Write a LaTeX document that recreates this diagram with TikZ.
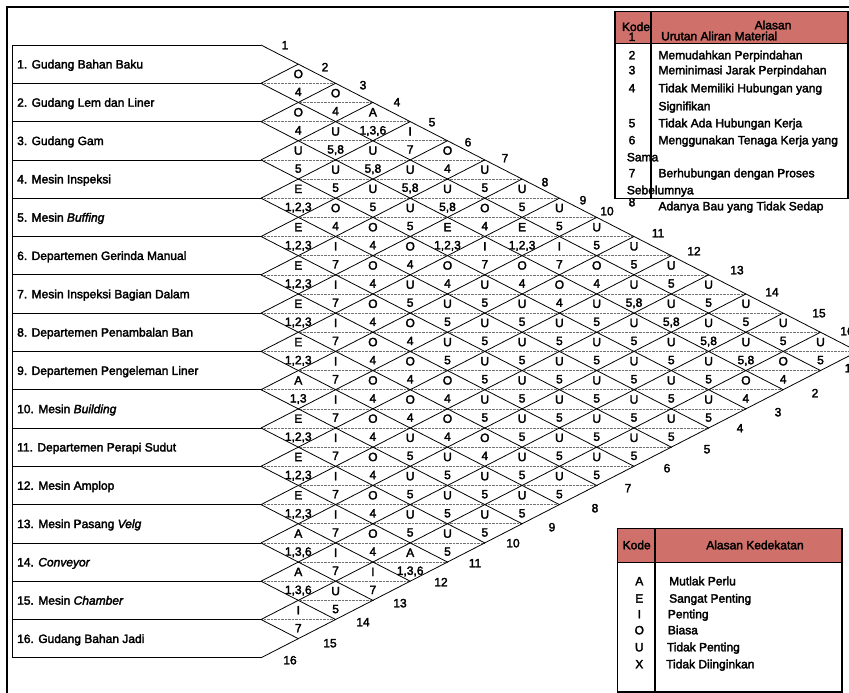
\documentclass[tikz,border=0pt]{standalone}
\usepackage{fontspec}
\setmainfont{Liberation Sans}[FakeBold=2.5]
\definecolor{hdr}{RGB}{207,112,106}
\begin{document}
\begin{tikzpicture}[x=1bp,y=-1bp, font=\fontsize{12bp}{14bp}\selectfont,
  lat/.style={line width=0.8bp},
  dotln/.style={line width=0.6bp, black!55, dash pattern=on 0.7bp off 0.7bp},
  ctext/.style={anchor=base, inner sep=0pt, yshift=-4.3bp},
  ltext/.style={anchor=base west, inner sep=0pt, yshift=-4.3bp},
  frameln/.style={line width=2bp},
  legbox/.style={line width=1.6bp}]
\useasboundingbox (0,0) rectangle (849,693);
% outer frame
\draw[frameln] (7.3,700) -- (7.3,6.7) -- (860,6.7);
% department boxes
\draw[lat] (12.3,45) -- (12.3,657.8);
\foreach \k in {0,...,16} \draw[lat] (12.3,{45+\k*38.3}) -- (261,{45+\k*38.3});
% dotted centre lines of the cells
\foreach \m in {2,...,30}{
  \pgfmathsetmacro\ym{45+\m*38.3/2}
  \pgfmathsetmacro\xs{261+mod(\m,2)*37.3}
  \pgfmathsetmacro\xe{261+min(\m,32-\m)*37.3}
  \draw[dotln] (\xs,\ym) -- (\xe,\ym);
}
% diamond lattice
\foreach \k in {0,...,16}{
  \pgfmathsetmacro\yk{45+\k*38.3}
  \ifnum\k<16 \draw[lat] (261,\yk) -- ({261+(16-\k)*37.3},{45+(8+\k/2)*38.3}); \fi
  \ifnum\k>0 \draw[lat] (261,\yk) -- ({261+\k*37.3},{45+\k*38.3/2}); \fi
}
% department names
\foreach \i/\t in {1/{1. Gudang Bahan Baku},2/{2. Gudang Lem dan Liner},3/{3. Gudang Gam},
  4/{4. Mesin Inspeksi},5/{5. Mesin \textit{Buffing}},6/{6. Departemen Gerinda Manual},
  7/{7. Mesin Inspeksi Bagian Dalam},8/{8. Departemen Penambalan Ban},
  9/{9. Departemen Pengeleman Liner},10/{10. Mesin \textit{Building}},
  11/{11. Departemen Perapi Sudut},12/{12. Mesin Amplop},13/{13. Mesin Pasang \textit{Velg}},
  14/{14. \textit{Conveyor}},15/{15. Mesin \textit{Chamber}},16/{16. Gudang Bahan Jadi}}
  \node[ltext] (D\i) at (17,{45+(\i-0.5)*38.3}) {\t};
% cells
\foreach \i/\j/\L/\R in {
 1/2/O/4, 1/3/O/4, 1/4/A/{1,3,6}, 1/5/I/7, 1/6/O/4, 1/7/U/5, 1/8/U/5, 1/9/U/5, 1/10/U/5, 1/11/U/5, 1/12/U/5, 1/13/U/5, 1/14/U/5, 1/15/U/5, 1/16/U/5,
 2/3/O/4, 2/4/U/{5,8}, 2/5/U/{5,8}, 2/6/U/{5,8}, 2/7/U/{5,8}, 2/8/O/4, 2/9/E/{1,2,3}, 2/10/I/7, 2/11/O/4, 2/12/U/{5,8}, 2/13/U/{5,8}, 2/14/U/{5,8}, 2/15/U/{5,8}, 2/16/O/4,
 3/4/U/5, 3/5/U/5, 3/6/U/5, 3/7/U/5, 3/8/E/{1,2,3}, 3/9/I/7, 3/10/O/4, 3/11/O/4, 3/12/U/5, 3/13/U/5, 3/14/U/5, 3/15/U/5, 3/16/O/4,
 4/5/E/{1,2,3}, 4/6/O/4, 4/7/O/4, 4/8/O/4, 4/9/O/4, 4/10/U/5, 4/11/U/5, 4/12/U/5, 4/13/U/5, 4/14/U/5, 4/15/U/5, 4/16/U/5,
 5/6/E/{1,2,3}, 5/7/I/7, 5/8/O/4, 5/9/U/5, 5/10/U/5, 5/11/U/5, 5/12/U/5, 5/13/U/5, 5/14/U/5, 5/15/U/5, 5/16/U/5,
 6/7/E/{1,2,3}, 6/8/I/7, 6/9/O/4, 6/10/O/4, 6/11/U/5, 6/12/U/5, 6/13/U/5, 6/14/U/5, 6/15/U/5, 6/16/U/5,
 7/8/E/{1,2,3}, 7/9/I/7, 7/10/O/4, 7/11/O/4, 7/12/O/4, 7/13/U/5, 7/14/U/5, 7/15/U/5, 7/16/U/5,
 8/9/E/{1,2,3}, 8/10/I/7, 8/11/O/4, 8/12/O/4, 8/13/O/4, 8/14/O/4, 8/15/U/5, 8/16/U/5,
 9/10/A/{1,3}, 9/11/I/7, 9/12/O/4, 9/13/U/5, 9/14/U/5, 9/15/U/5, 9/16/U/5,
 10/11/E/{1,2,3}, 10/12/I/7, 10/13/O/4, 10/14/U/5, 10/15/U/5, 10/16/U/5,
 11/12/E/{1,2,3}, 11/13/I/7, 11/14/O/4, 11/15/U/5, 11/16/U/5,
 12/13/E/{1,2,3}, 12/14/I/7, 12/15/O/4, 12/16/A/{1,3,6},
 13/14/A/{1,3,6}, 13/15/I/7, 13/16/I/7,
 14/15/A/{1,3,6}, 14/16/U/5,
 15/16/I/7}{
  \pgfmathsetmacro\cx{261+(\j-\i)*37.3}
  \pgfmathsetmacro\cy{45+(\i+\j-1)*38.3/2}
  \node[ctext] (L\i-\j) at ({\cx},{\cy-9.5}) {\L};
  \node[ctext] (R\i-\j) at ({\cx},{\cy+8.5}) {\R};
}
% numbers along the top edge
\foreach \n/\x/\y in {1/285/45,2/325/67,3/363/85,4/397/102,5/432/122,6/468/142,7/505/158,8/545/182,
  9/583/200,10/607/211,11/658/233,12/694/251,13/737/270,14/772/292,15/819/313,16/847/331}
  \node[ctext] (T\n) at (\x,\y) {\n};
% numbers along the bottom edge
\foreach \n/\x/\y in {16/290/660,15/330/643,14/363/622,13/400/603,12/441/582,11/475/563,10/513/543,
  9/552/527,8/595/508,7/628/488,6/667/468,5/707/449,4/740/428,3/778/412,2/815/393,1/848/368}
  \node[ctext] (B\n) at (\x,\y) {\n};
% legend: reasons
\fill[white] (615,11.7) rectangle (848,198.3);
\fill[hdr] (615,11.7) rectangle (848,43.3);
\draw[legbox] (615,11.7) rectangle (848,198.3);
\draw[lat] (615,43.3) -- (848,43.3);
\draw[legbox] (650.7,11.7) -- (650.7,198.3);
\node[ctext] (k0) at (636,26.7) {Kode};
\node[ctext] (a0) at (773,25) {Alasan};
\node[ctext] (k1) at (632,36.7) {1};
\node[ltext] (a1) at (661,36) {Urutan Aliran Material};
\foreach \n/\y/\t in {2/55/{Memudahkan Perpindahan},3/70/{Meminimasi Jarak Perpindahan},
  4/88/{Tidak Memiliki Hubungan yang},5/123/{Tidak Ada Hubungan Kerja},
  6/140/{Menggunakan Tenaga Kerja yang},7/173/{Berhubungan dengan Proses}}{
  \node[ctext] (k\n) at (632,\y) {\n};
  \node[ltext] (a\n) at (658.3,\y) {\t};
}
\node[ltext] (a4b) at (658.3,106) {Signifikan};
\node[ltext] (a6b) at (626.7,157) {Sama};
\node[ltext] (a7b) at (626.7,190) {Sebelumnya};
\node[ctext] (k8) at (632,202) {8};
\node[ltext] (a8) at (658.3,206) {Adanya Bau yang Tidak Sedap};
% legend: closeness codes
\fill[white] (617.3,528.3) rectangle (841.7,691.7);
\fill[hdr] (617.3,528.3) rectangle (841.7,562.3);
\draw[legbox] (617.3,528.3) rectangle (841.7,691.7);
\draw[legbox] (617.3,562.3) -- (841.7,562.3);
\draw[legbox] (655,528.3) -- (655,691.7);
\node[ctext] (kk) at (636.7,545) {Kode};
\node[ctext] (ak) at (755,545) {Alasan Kedekatan};
\foreach \c/\y/\x/\t in {A/581/669/{Mutlak Perlu},E/598.3/669/{Sangat Penting},I/614/667.7/{Penting},
  O/630/667.7/{Biasa},U/647/666.7/{Tidak Penting},X/664/666/{Tidak Diinginkan}}{
  \node[ctext] (c\c) at (639.3,\y) {\c};
  \node[ltext] (t\c) at (\x,\y) {\t};
}
\end{tikzpicture}
\end{document}
